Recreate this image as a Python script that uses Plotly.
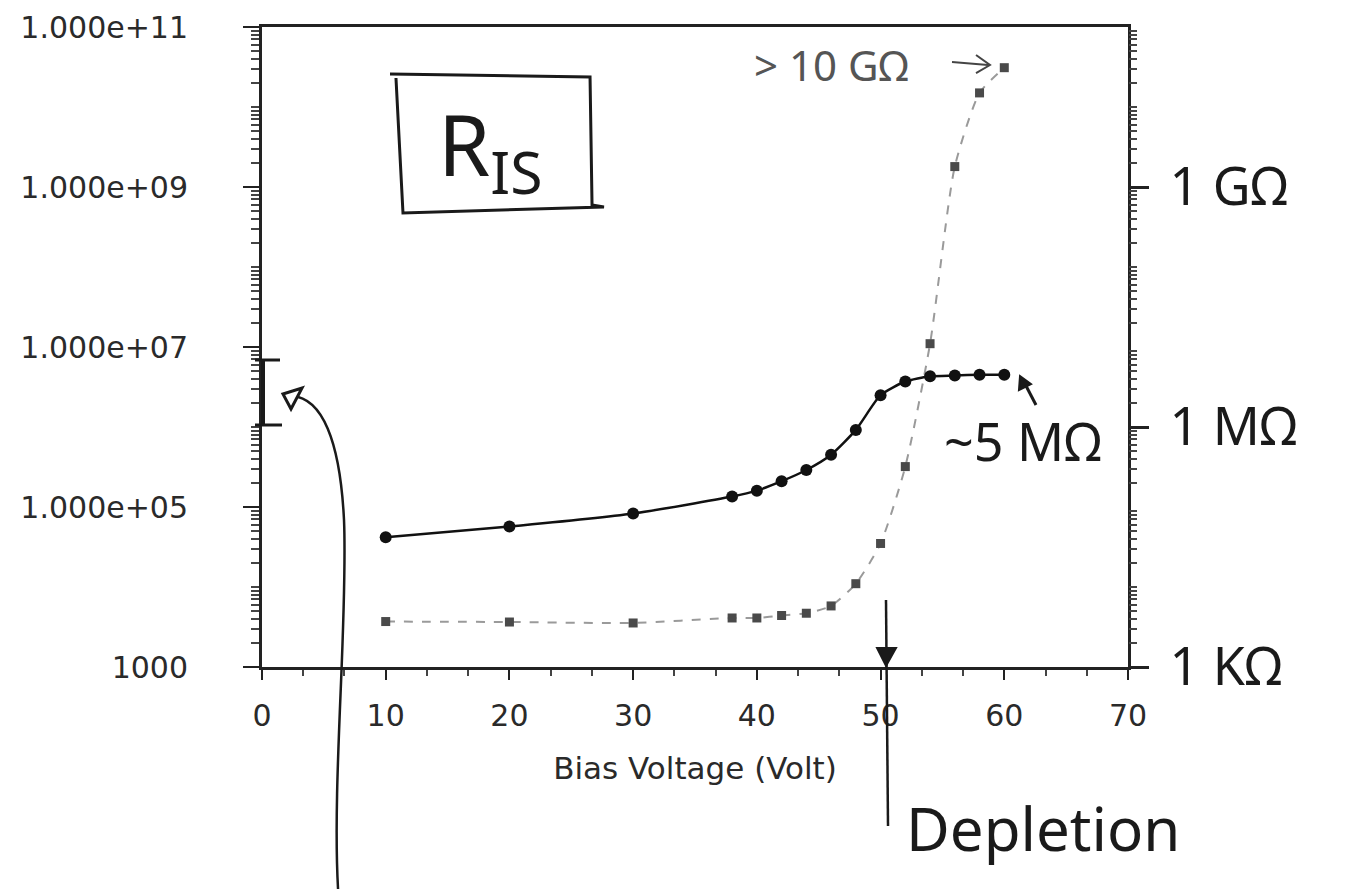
import plotly.graph_objects as go

# ---- data ----
bias_volt = [10, 20, 30, 38, 40, 42, 44, 46, 48, 50, 52, 54, 56, 58, 60]
r_upper = [4.2e4, 5.7e4, 8.3e4, 1.35e5, 1.6e5, 2.1e5, 2.9e5, 4.5e5, 9.2e5,
           2.5e6, 3.7e6, 4.3e6, 4.4e6, 4.5e6, 4.5e6]
r_lower = [3.7e3, 3.65e3, 3.55e3, 4.1e3, 4.1e3, 4.4e3, 4.7e3, 5.8e3, 1.1e4,
           3.5e4, 3.2e5, 1.1e7, 1.8e9, 1.5e10, 3.1e10]

x_ticks = [0, 10, 20, 30, 40, 50, 60, 70]
y_tickvals = [1e3, 1e5, 1e7, 1e9, 1e11]
y_ticktext = ["1000", "1.000e+05", "1.000e+07", "1.000e+09", "1.000e+11"]
right_tickvals = [1e3, 1e6, 1e9]
right_ticktext = ["1 KΩ", "1 MΩ", "1 GΩ"]

minor_vals = [m * 10 ** k for k in range(3, 11) for m in range(2, 10)] + [10 ** k for k in range(4, 11, 2)]

# ---- layout geometry (screen pixels; page body has an 8px margin) ----
W, H = 1345, 889
OFF = 8
L, R, T, B = 262, 1128, 27, 667


def px(x, y):
    return (x - L) / (R - L), (B - y) / (B - T)


def P(x, y):
    a, b = px(x, y)
    return f"{a:.4f},{b:.4f}"


hand_font = dict(family="Noto Sans", color="#1a1a1a")
axis_font = dict(family="DejaVu Sans", color="#2a2a2a")

fig = go.Figure()

fig.add_trace(go.Scatter(
    x=bias_volt, y=r_lower, mode="lines+markers",
    line=dict(color="#9a9a9a", width=2, dash="dash", shape="spline", smoothing=0.6),
    marker=dict(symbol="square", size=9, color="#4a4a4a"),
    showlegend=False, hoverinfo="x+y"))

fig.add_trace(go.Scatter(
    x=bias_volt, y=r_upper, mode="lines+markers",
    line=dict(color="#111111", width=2.5, shape="spline", smoothing=0.6),
    marker=dict(symbol="circle", size=12, color="#111111"),
    showlegend=False, hoverinfo="x+y"))

# invisible trace to anchor the right axis
fig.add_trace(go.Scatter(x=bias_volt, y=r_upper, yaxis="y2", mode="markers",
                         marker=dict(opacity=0), showlegend=False, hoverinfo="skip"))


def seg(x0, y0, x1, y1, width=3, color="#1a1a1a"):
    a0, b0 = px(x0, y0)
    a1, b1 = px(x1, y1)
    return dict(type="line", xref="paper", yref="paper", x0=a0, y0=b0, x1=a1, y1=b1,
                line=dict(color=color, width=width))


shapes = [
    # R_IS box
    dict(type="path", xref="paper", yref="paper",
         path=f"M {P(390,74)} L {P(590,77)} L {P(592,205)} L {P(604,207)} "
              f"L {P(403,213)} L {P(396,78)}",
         line=dict(color="#1a1a1a", width=3)),
    # bracket on left axis
    seg(263, 360, 263, 425, 4), seg(255, 360, 280, 360), seg(255, 425, 282, 425),
    # curved arrow from the bottom up to the bracket
    dict(type="path", xref="paper", yref="paper",
         path=f"M {P(338,889)} C {P(332,780)} {P(348,620)} {P(344,520)} "
              f"C {P(340,440)} {P(322,398)} {P(292,396)}",
         line=dict(color="#1a1a1a", width=2.5)),
    dict(type="path", xref="paper", yref="paper",
         path=f"M {P(283,394)} L {P(302,388)} L {P(291,409)} Z",
         line=dict(color="#1a1a1a", width=3), fillcolor="white"),
    # depletion line with arrowhead
    seg(886, 600, 888, 826, 2.5),
    dict(type="path", xref="paper", yref="paper",
         path=f"M {P(877,648)} L {P(896,648)} L {P(886,666)} Z",
         line=dict(color="#1a1a1a", width=2), fillcolor="#1a1a1a"),
    # arrow > 10 GOhm
    seg(952, 62, 988, 65, 2, "#444444"),
    dict(type="path", xref="paper", yref="paper",
         path=f"M {P(976,55)} L {P(990,65)} L {P(976,73)}",
         line=dict(color="#444444", width=2)),
    # arrow ~5 MOhm
    seg(1036, 405, 1024, 382, 3),
    dict(type="path", xref="paper", yref="paper",
         path=f"M {P(1020,376)} L {P(1031,384)} L {P(1019,390)} Z",
         line=dict(color="#1a1a1a", width=2), fillcolor="#1a1a1a"),
]


def note(x, y, text, size, xanchor="center", color=None):
    a, b = px(x, y)
    f = dict(hand_font)
    if color:
        f["color"] = color
    return dict(xref="paper", yref="paper", x=a, y=b, text=text, showarrow=False,
                xanchor=xanchor, yanchor="middle", font=dict(size=size, **f))


annotations = [
    note(490, 148, "R<sub>IS</sub>", 84),
    note(752, 64, "> 10 GΩ", 42, "left", "#555555"),
    note(942, 440, "~5 MΩ", 52, "left"),
    note(904, 828, "Depletion", 60, "left"),
]

fig.update_layout(
    width=W, height=H,
    margin=dict(l=L - OFF, r=W + OFF - R, t=T - OFF, b=H + OFF - B, pad=0, autoexpand=False),
    paper_bgcolor="white", plot_bgcolor="white",
    shapes=shapes, annotations=annotations,
    xaxis=dict(range=[0, 70], tickvals=x_ticks, ticks="outside", ticklen=10, tickwidth=2,
               tickcolor="#222", showline=True, linewidth=3, linecolor="#222", mirror=True,
               showgrid=False, zeroline=False, tickfont=dict(size=30, **axis_font),
               ticklabelstandoff=10, automargin=False,
               minor=dict(dtick=10 / 3, tick0=0, ticks="outside", ticklen=6, tickwidth=2,
                          tickcolor="#444", showgrid=False),
               title=dict(text="Bias Voltage (Volt)", font=dict(size=31, **axis_font), standoff=26)),
    yaxis=dict(type="log", range=[3, 11], tickvals=y_tickvals, ticktext=y_ticktext,
               ticks="outside", ticklen=16, tickwidth=2, tickcolor="#222",
               showline=True, linewidth=3, linecolor="#222", mirror=True,
               showgrid=False, zeroline=False, tickfont=dict(size=30, **axis_font),
               ticklabelstandoff=49, automargin=False,
               minor=dict(tickvals=minor_vals, ticks="outside", ticklen=8, tickwidth=2,
                          tickcolor="#444", showgrid=False)),
    yaxis2=dict(type="log", range=[3, 11], overlaying="y", side="right",
                tickvals=right_tickvals, ticktext=right_ticktext,
                ticks="outside", ticklen=20, tickwidth=3, tickcolor="#222",
                showline=False, showgrid=False, zeroline=False, automargin=False,
                tickfont=dict(size=52, **hand_font), ticklabelstandoff=10,
                minor=dict(tickvals=minor_vals, ticks="outside", ticklen=8, tickwidth=2,
                           tickcolor="#444", showgrid=False)),
)

fig.write_html("out.html")
